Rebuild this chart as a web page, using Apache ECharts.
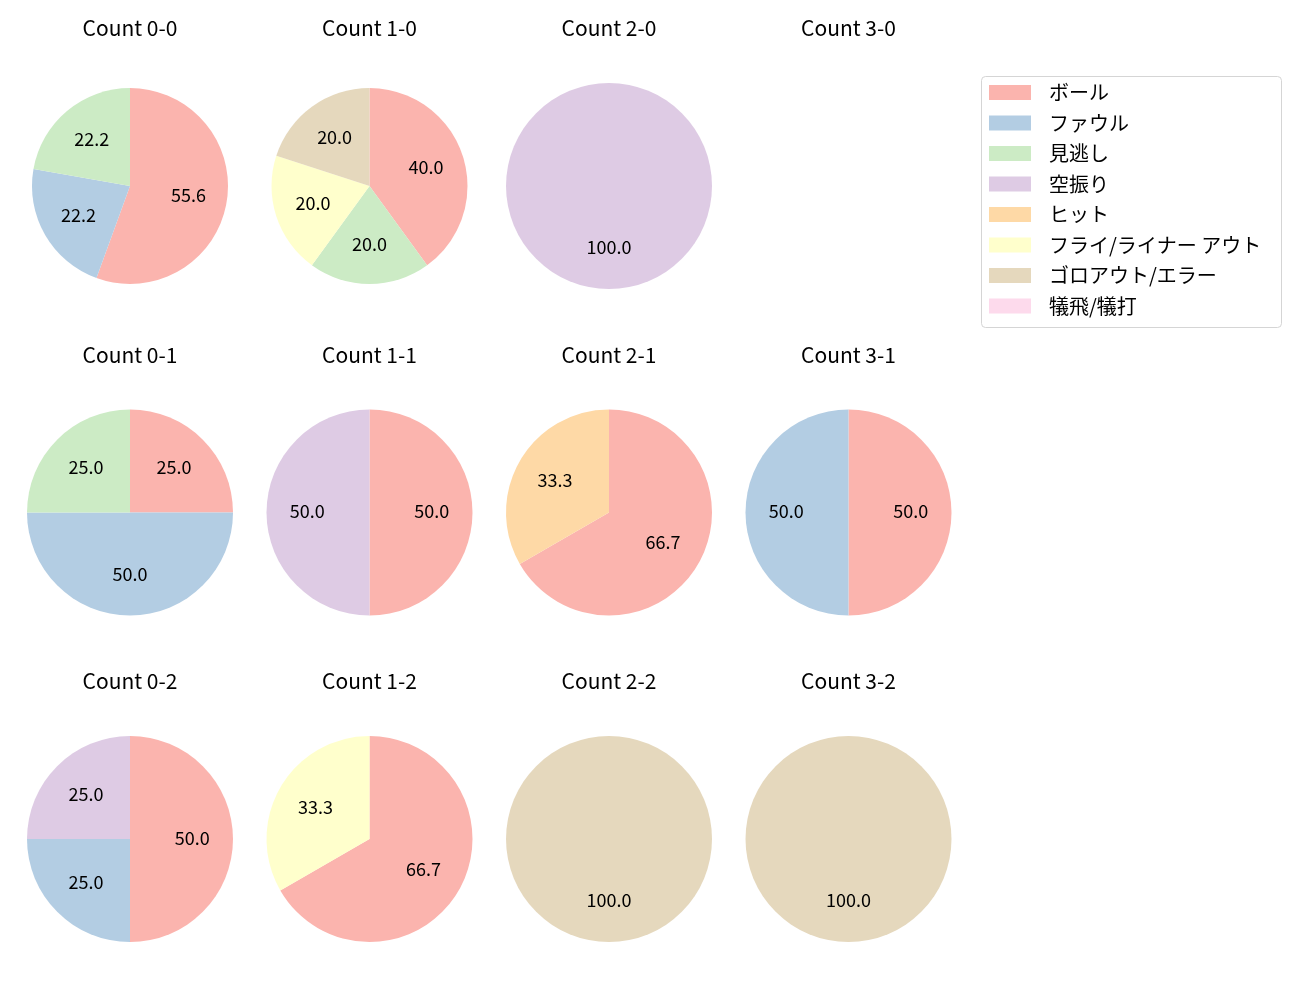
<!DOCTYPE html>
<html>
<head>
<meta charset="utf-8">
<script src="https://cdn.jsdelivr.net/npm/echarts@6/dist/echarts.min.js"></script>
<style>html,body{margin:0;padding:0;background:#fff;}#main{width:1300px;height:1000px;}</style>
</head>
<body>
<div id="main"></div>
<script>
// ---- data ----
const categories = ['ボール', 'ファウル', '見逃し', '空振り', 'ヒット', 'フライ/ライナー アウト', 'ゴロアウト/エラー', '犠飛/犠打'];
const colors = ['#fbb4ae', '#b3cde3', '#ccebc5', '#decbe4', '#fed9a6', '#ffffcc', '#e5d8bd', '#fddaec'];
const countLabels = ['0-0', '1-0', '2-0', '3-0', '0-1', '1-1', '2-1', '3-1', '0-2', '1-2', '2-2', '3-2'];
// pitch counts per category (order as in categories)
const count00 = [5, 2, 2, 0, 0, 0, 0, 0];
const count10 = [2, 0, 1, 0, 0, 1, 1, 0];
const count20 = [0, 0, 0, 1, 0, 0, 0, 0];
const count30 = [0, 0, 0, 0, 0, 0, 0, 0];
const count01 = [1, 2, 1, 0, 0, 0, 0, 0];
const count11 = [1, 0, 0, 1, 0, 0, 0, 0];
const count21 = [2, 0, 0, 0, 1, 0, 0, 0];
const count31 = [1, 1, 0, 0, 0, 0, 0, 0];
const count02 = [2, 1, 0, 1, 0, 0, 0, 0];
const count12 = [2, 0, 0, 0, 0, 1, 0, 0];
const count22 = [0, 0, 0, 0, 0, 0, 1, 0];
const count32 = [0, 0, 0, 0, 0, 0, 1, 0];
const allCounts = [count00, count10, count20, count30, count01, count11, count21, count31, count02, count12, count22, count32];

// ---- layout ----
const colX = [130, 369.5, 609, 848.5];
const rowY = [186, 512.5, 839];
const radii = [98, 98, 103, 103, 103, 103, 103, 103, 103, 103, 103, 103];
const titleY = [18, 345, 671];
const FONT = '"Noto Sans CJK JP", sans-serif';

const series = [];
const titles = [];
allCounts.forEach(function (vals, i) {
  const col = i % 4, row = Math.floor(i / 4);
  const cx = colX[col], cy = rowY[row], r = radii[i];
  titles.push({
    text: 'Count ' + countLabels[i],
    left: cx, top: titleY[row], textAlign: 'center', padding: 0,
    textStyle: { fontFamily: FONT, fontSize: 21, fontWeight: 'normal', color: '#000' }
  });
  const sum = vals.reduce(function (a, b) { return a + b; }, 0);
  if (sum === 0) return;
  const full = vals.map(function (v, k) { return { name: categories[k], value: v, itemStyle: { color: colors[k] } }; });
  series.push({
    type: 'pie', center: [cx, cy], radius: [0, r], startAngle: 90, clockwise: true,
    data: full, label: { show: false }, labelLine: { show: false },
    itemStyle: { borderWidth: 0 }, emphasis: { disabled: true }, silent: true,
    stillShowZeroSum: false, minAngle: 0, avoidLabelOverlap: false
  });
  const nz = full.filter(function (d) { return d.value > 0; }).map(function (d) {
    return { name: d.name, value: d.value, itemStyle: { color: 'rgba(0,0,0,0)' } };
  });
  series.push({
    type: 'pie', center: [cx, cy], radius: [0, r * 1.15], startAngle: 90, clockwise: true,
    data: nz, avoidLabelOverlap: false, silent: true, emphasis: { disabled: true },
    itemStyle: { borderWidth: 0 }, labelLine: { show: false },
    label: {
      show: true, position: 'inside', fontFamily: FONT, fontSize: 18, color: '#000',
      offset: [0, -1],
      formatter: function (p) { return (p.value / sum * 100).toFixed(1); }
    }
  });
});

const chart = echarts.init(document.getElementById('main'), null, { renderer: 'canvas' });
chart.setOption({
  animation: false,
  backgroundColor: '#fff',
  title: titles,
  legend: {
    orient: 'vertical', left: 989, top: 82.5,
    itemWidth: 42, itemHeight: 15, itemGap: 10.5, icon: 'rect',
    padding: 0,
    selectedMode: false,
    textStyle: { fontFamily: FONT, fontSize: 20, color: '#000', padding: [0, 0, 0, 13] },
    data: categories.map(function (c, k) { return { name: c, itemStyle: { color: colors[k] } }; })
  },
  graphic: [{
    type: 'rect', left: 981, top: 76, z: -1,
    shape: { width: 300, height: 251, r: 4 },
    style: { fill: '#fff', stroke: '#d5d5d5', lineWidth: 1 }
  }],
  series: series
});
</script>
</body>
</html>
